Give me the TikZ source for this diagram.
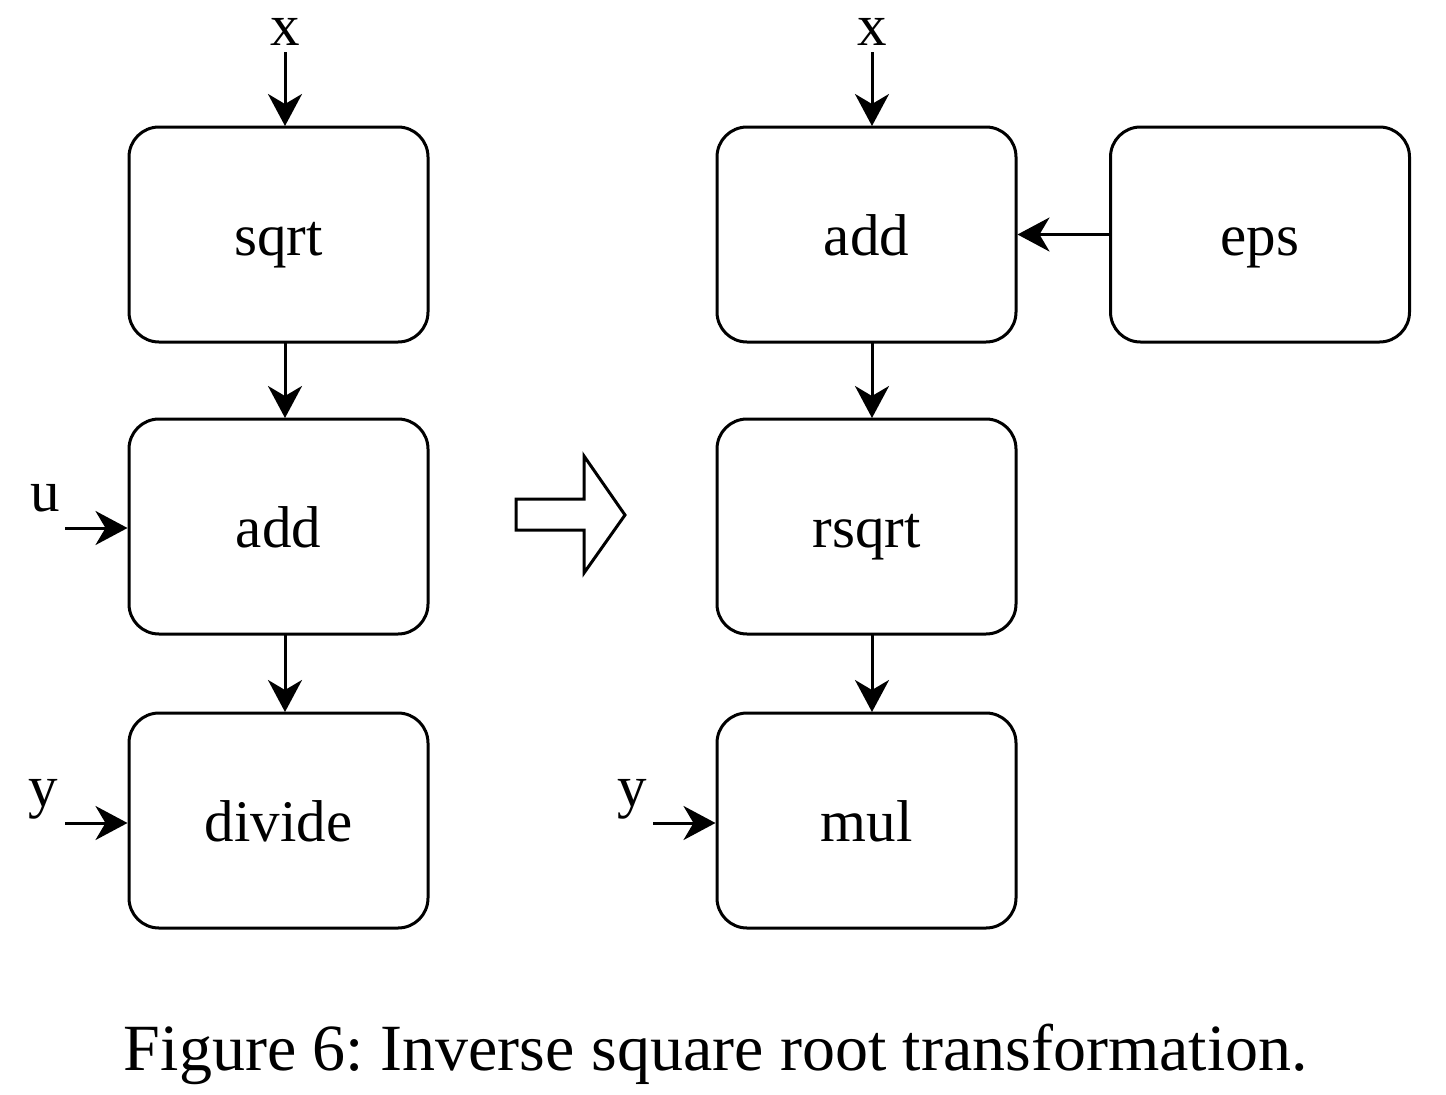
\documentclass[tikz,border=0pt]{standalone}
\usepackage{fontspec}
\setmainfont{Liberation Serif}
\usetikzlibrary{arrows.meta}
\frenchspacing
\begin{document}
\begin{tikzpicture}[x=1pt,y=-1pt,
  box/.style={draw, line width=3pt, rounded corners=30pt, minimum width=299pt, minimum height=215pt, inner sep=0pt, font=\fontsize{59}{60}\selectfont, text height=41pt, text depth=0pt},
  lbl/.style={font=\fontsize{59}{60}\selectfont, anchor=base, inner sep=0pt},
  conn/.style={line width=3pt, -{Stealth[length=32pt,width=34pt,inset=10pt]}}]
\useasboundingbox (0,0) rectangle (1446,1095);
% left column
\node[box] (sqrt) at (278.5,234.5) {sqrt};
\node[box] (add1) at (278.5,526.5) {add};
\node[box] (div) at (278.5,820.5) {divide};
% right column
\node[box] (add2) at (866.5,234.5) {add};
\node[box] (rsqrt) at (866.5,526.5) {rsqrt};
\node[box] (mul) at (866.5,820.5) {mul};
\node[box] (eps) at (1260,234.5) {eps};
% labels
\node[lbl] (x1) at (285,45) {x};
\node[lbl] (x2) at (872,45) {x};
\node[lbl] (u) at (45,511) {u};
\node[lbl] (y1) at (43,806) {y};
\node[lbl] (y2) at (632,806) {y};
\coordinate (x1e) at (285,52);
\coordinate (x2e) at (872,52);
\coordinate (ue) at (65,528);
\coordinate (y1e) at (65,823);
\coordinate (y2e) at (653,823);
% connectors
\draw[conn] (x1e) -- (285,126);
\draw[conn] (x2e) -- (872,126);
\draw[conn] (285,343) -- (285,418);
\draw[conn] (285,635) -- (285,712);
\draw[conn] (872,343) -- (872,418);
\draw[conn] (872,635) -- (872,712);
\draw[conn] (ue) -- (add1.west |- ue);
\draw[conn] (y1e) -- (div.west |- y1e);
\draw[conn] (y2e) -- (mul.west |- y2e);
\draw[conn] (eps.west) -- (add2.east);
% hollow arrow
\draw[line width=3pt, line join=miter] (516,499) -- (584,499) -- (584,456) -- (625,515) -- (584,573) -- (584,530) -- (516,530) -- cycle;
% caption
\node[lbl, font=\fontsize{66}{68}\selectfont] (cap) at (716,1070) {Figure 6: Inverse square root transformation.};
\end{tikzpicture}
\end{document}
